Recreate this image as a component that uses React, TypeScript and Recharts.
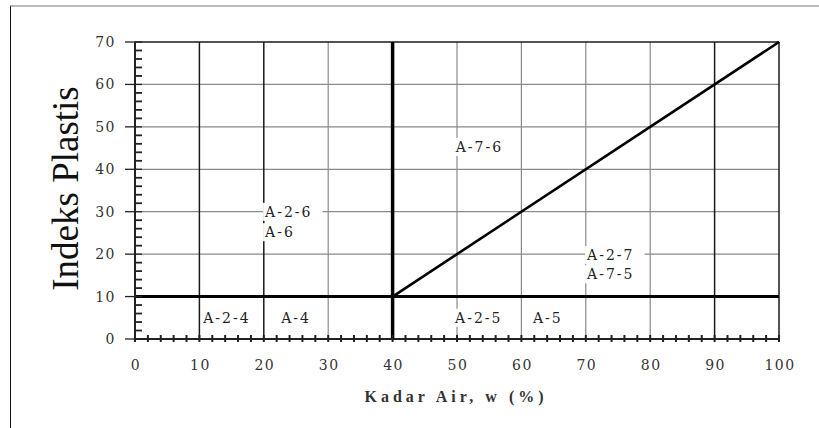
import React from 'react';
import { ComposedChart, Line, Scatter, XAxis, YAxis, ReferenceLine, Label } from 'recharts';

// kadar air (x) tick positions, labelled every 10
const xTicks = [0, 2, 4, 6, 8, 10, 12, 14, 16, 18, 20, 22, 24, 26, 28, 30, 32, 34, 36, 38, 40, 42, 44, 46, 48, 50,
  52, 54, 56, 58, 60, 62, 64, 66, 68, 70, 72, 74, 76, 78, 80, 82, 84, 86, 88, 90, 92, 94, 96, 98, 100];
const xTickLabels = [0, 10, 20, 30, 40, 50, 60, 70, 80, 90, 100];
// indeks plastis (y) tick positions
const yTicks = [0, 2, 4, 6, 8, 10, 12, 14, 16, 18, 20, 22, 24, 26, 28, 30, 32, 34, 36, 38, 40, 42, 44, 46, 48, 50,
  52, 54, 56, 58, 60, 62, 64, 66, 68, 70];
const yTickLabels = [0, 10, 20, 30, 40, 50, 60, 70];

const lightX = [30, 50, 60, 70, 80];
const darkX = [10, 20, 90, 100];
const lightY = [20, 30, 40, 50, 60];
const darkY = [70];
const thickX = [40];
const thickY = [10];

// garis batas A-7-5 / A-7-6
const boundaryLine = [
  { x: 40, y: 10 },
  { x: 100, y: 70 },
];

const zones = [
  { x: 10.6, y: 3.8, name: 'A-2-4' },
  { x: 22.7, y: 3.8, name: 'A-4' },
  { x: 49.7, y: 3.8, name: 'A-2-5' },
  { x: 61.8, y: 3.8, name: 'A-5' },
  { x: 49.8, y: 44.1, name: 'A-7-6' },
  { x: 70.2, y: 18.6, name: 'A-2-7' },
  { x: 70.2, y: 14.1, name: 'A-7-5' },
  { x: 20.2, y: 28.8, name: 'A-2-6' },
  { x: 20.2, y: 24.0, name: 'A-6' },
];

const tickFont = { fontFamily: 'DejaVu Serif', fontSize: 14, letterSpacing: 1.5, fill: '#333' };

const XTick = (props: any) => {
  const { x, y, payload } = props;
  const v = payload.value;
  const major = xTickLabels.includes(v);
  return (
    <g>
      <line x1={x} x2={x} y1={y - 4} y2={y + 3} stroke="#222" strokeWidth={2} />
      {major && (
        <text x={x + 1} y={y + 31} textAnchor="middle" style={tickFont}>{v}</text>
      )}
    </g>
  );
};

const YTick = (props: any) => {
  const { x, y, payload } = props;
  const v = payload.value;
  const major = yTickLabels.includes(v);
  return (
    <g>
      <line x1={major ? x - 10 : x} x2={x + 7} y1={y} y2={y} stroke="#222" strokeWidth={major ? 1.3 : 1.8} />
      {major && (
        <text x={x - 19} y={y + 5} textAnchor="end" style={tickFont}>{v}</text>
      )}
    </g>
  );
};

const ZoneLabel = (props: any) => {
  const { cx, cy, payload } = props;
  const w = payload.name.length * 11.5;
  return (
    <g>
      <rect x={cx - 2} y={cy - 14} width={w + 2} height={18} fill="#fff" />
      <text x={cx} y={cy} style={{ fontFamily: 'DejaVu Serif', fontSize: 14, letterSpacing: 2, fill: '#222' }}>
        {payload.name}
      </text>
    </g>
  );
};

const App: React.FC = () => {
  return (
    <div style={{ position: 'absolute', left: 0, top: 0, width: 819, height: 428, background: '#fff' }}>
      <div
        style={{
          position: 'absolute',
          left: 10,
          top: 5,
          width: 809,
          height: 423,
          borderTop: '2px solid #bbb',
          borderLeft: '1.5px solid #111',
          boxSizing: 'border-box',
        }}
      />
      <div style={{ position: 'absolute', left: 0, top: 0 }}>
        <ComposedChart width={819} height={428} margin={{ top: 42, right: 40, left: 75, bottom: 49 }}>
          <XAxis
            type="number"
            dataKey="x"
            domain={[0, 100]}
            ticks={xTicks}
            interval={0}
            tickSize={0}
            tickMargin={0}
            height={40}
            axisLine={{ stroke: '#222', strokeWidth: 2 }}
            tickLine={false}
            tick={<XTick />}
          >
            <Label
              value="Kadar Air, w (%)"
              position="bottom"
              offset={0}
              content={({ viewBox }: any) => (
                <text
                  x={viewBox.x + viewBox.width / 2 - 1}
                  y={viewBox.y + 63}
                  textAnchor="middle"
                  style={{ fontFamily: 'Liberation Serif', fontWeight: 'bold', fontSize: 16, letterSpacing: 4, fill: '#333' }}
                >
                  Kadar Air, w (%)
                </text>
              )}
            />
          </XAxis>
          <YAxis
            type="number"
            dataKey="y"
            domain={[0, 70]}
            ticks={yTicks}
            interval={0}
            tickSize={0}
            tickMargin={0}
            width={60}
            axisLine={{ stroke: '#222', strokeWidth: 2 }}
            tickLine={false}
            tick={<YTick />}
          >
            <Label
              value="Indeks Plastis"
              content={({ viewBox }: any) => (
                <text
                  x={78}
                  y={viewBox.y + viewBox.height / 2 - 2}
                  textAnchor="middle"
                  transform={`rotate(-90 78 ${viewBox.y + viewBox.height / 2 - 2})`}
                  style={{ fontFamily: 'Liberation Serif', fontSize: 37, fill: '#111' }}
                >
                  Indeks Plastis
                </text>
              )}
            />
          </YAxis>
          {lightX.map((v) => (
            <ReferenceLine key={'lx' + v} x={v} stroke="#8a8a8a" strokeWidth={1.2} />
          ))}
          {lightY.map((v) => (
            <ReferenceLine key={'ly' + v} y={v} stroke="#8a8a8a" strokeWidth={1.2} />
          ))}
          {darkX.map((v) => (
            <ReferenceLine key={'dx' + v} x={v} stroke="#1a1a1a" strokeWidth={1.5} />
          ))}
          {darkY.map((v) => (
            <ReferenceLine key={'dy' + v} y={v} stroke="#1a1a1a" strokeWidth={1.5} />
          ))}
          <Scatter data={zones} shape={<ZoneLabel />} isAnimationActive={false} />
          {thickY.map((v) => (
            <ReferenceLine key={'ty' + v} y={v} stroke="#000" strokeWidth={3} />
          ))}
          {thickX.map((v) => (
            <ReferenceLine key={'tx' + v} x={v} stroke="#000" strokeWidth={3.5} />
          ))}
          <Line
            data={boundaryLine}
            dataKey="y"
            stroke="#000"
            strokeWidth={2.6}
            dot={false}
            isAnimationActive={false}
          />
        </ComposedChart>
      </div>
    </div>
  );
};

export default App;
